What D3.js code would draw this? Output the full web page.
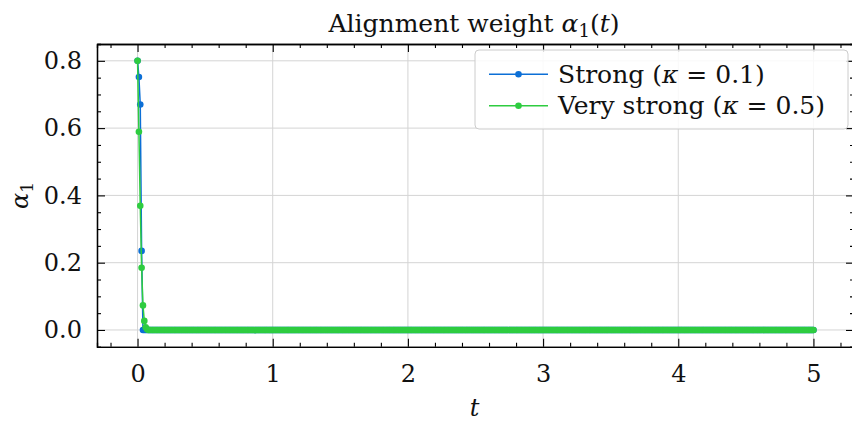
<!DOCTYPE html>
<html lang="en">
<head>
<meta charset="UTF-8">
<script src="https://d3js.org/d3.v7.min.js"></script>
<title>Alignment weight</title>
<style>
  body { margin: 0; background: #fff; }
  text { font-family: "DejaVu Serif", serif; fill: #111; }
</style>
</head>
<body>
<script>
// time step of the sampled curves (t = 0 ... 5)
var dt = 0.01;

// alpha_1(t), kappa = 0.1
var strongAlpha = [0.8, 0.752, 0.670, 0.235, 0,
  0,0,0,0,0,0,0,0,0,0, 0,0,0,0,0,0,0,0,0,0, 0,0,0,0,0,0,0,0,0,0, 0,0,0,0,0,0,0,0,0,0, 0,0,0,0,0,0,0,0,0,0,
  0,0,0,0,0,0,0,0,0,0, 0,0,0,0,0,0,0,0,0,0, 0,0,0,0,0,0,0,0,0,0, 0,0,0,0,0,0,0,0,0,0, 0,0,0,0,0,0,0,0,0,0,
  0,0,0,0,0,0,0,0,0,0, 0,0,0,0,0,0,0,0,0,0, 0,0,0,0,0,0,0,0,0,0, 0,0,0,0,0,0,0,0,0,0, 0,0,0,0,0,0,0,0,0,0,
  0,0,0,0,0,0,0,0,0,0, 0,0,0,0,0,0,0,0,0,0, 0,0,0,0,0,0,0,0,0,0, 0,0,0,0,0,0,0,0,0,0, 0,0,0,0,0,0,0,0,0,0,
  0,0,0,0,0,0,0,0,0,0, 0,0,0,0,0,0,0,0,0,0, 0,0,0,0,0,0,0,0,0,0, 0,0,0,0,0,0,0,0,0,0, 0,0,0,0,0,0,0,0,0,0,
  0,0,0,0,0,0,0,0,0,0, 0,0,0,0,0,0,0,0,0,0, 0,0,0,0,0,0,0,0,0,0, 0,0,0,0,0,0,0,0,0,0, 0,0,0,0,0,0,0,0,0,0,
  0,0,0,0,0,0,0,0,0,0, 0,0,0,0,0,0,0,0,0,0, 0,0,0,0,0,0,0,0,0,0, 0,0,0,0,0,0,0,0,0,0, 0,0,0,0,0,0,0,0,0,0,
  0,0,0,0,0,0,0,0,0,0, 0,0,0,0,0,0,0,0,0,0, 0,0,0,0,0,0,0,0,0,0, 0,0,0,0,0,0,0,0,0,0, 0,0,0,0,0,0,0,0,0,0,
  0,0,0,0,0,0,0,0,0,0, 0,0,0,0,0,0,0,0,0,0, 0,0,0,0,0,0,0,0,0,0, 0,0,0,0,0,0,0,0,0,0, 0,0,0,0,0,0,0,0,0,0,
  0,0,0,0,0,0,0,0,0,0, 0,0,0,0,0,0,0,0,0,0, 0,0,0,0,0,0,0,0,0,0, 0,0,0,0,0,0,0,0,0,0, 0,0,0,0,0,0];

// alpha_1(t), kappa = 0.5
var veryStrongAlpha = [0.8, 0.589, 0.369, 0.185, 0.073, 0.027, 0.008, 0.002,
  0,0,0,0,0,0,0,0,0,0, 0,0,0,0,0,0,0,0,0,0, 0,0,0,0,0,0,0,0,0,0, 0,0,0,0,0,0,0,0,0,0, 0,0,0,0,0,0,0,0,0,0,
  0,0,0,0,0,0,0,0,0,0, 0,0,0,0,0,0,0,0,0,0, 0,0,0,0,0,0,0,0,0,0, 0,0,0,0,0,0,0,0,0,0, 0,0,0,0,0,0,0,0,0,0,
  0,0,0,0,0,0,0,0,0,0, 0,0,0,0,0,0,0,0,0,0, 0,0,0,0,0,0,0,0,0,0, 0,0,0,0,0,0,0,0,0,0, 0,0,0,0,0,0,0,0,0,0,
  0,0,0,0,0,0,0,0,0,0, 0,0,0,0,0,0,0,0,0,0, 0,0,0,0,0,0,0,0,0,0, 0,0,0,0,0,0,0,0,0,0, 0,0,0,0,0,0,0,0,0,0,
  0,0,0,0,0,0,0,0,0,0, 0,0,0,0,0,0,0,0,0,0, 0,0,0,0,0,0,0,0,0,0, 0,0,0,0,0,0,0,0,0,0, 0,0,0,0,0,0,0,0,0,0,
  0,0,0,0,0,0,0,0,0,0, 0,0,0,0,0,0,0,0,0,0, 0,0,0,0,0,0,0,0,0,0, 0,0,0,0,0,0,0,0,0,0, 0,0,0,0,0,0,0,0,0,0,
  0,0,0,0,0,0,0,0,0,0, 0,0,0,0,0,0,0,0,0,0, 0,0,0,0,0,0,0,0,0,0, 0,0,0,0,0,0,0,0,0,0, 0,0,0,0,0,0,0,0,0,0,
  0,0,0,0,0,0,0,0,0,0, 0,0,0,0,0,0,0,0,0,0, 0,0,0,0,0,0,0,0,0,0, 0,0,0,0,0,0,0,0,0,0, 0,0,0,0,0,0,0,0,0,0,
  0,0,0,0,0,0,0,0,0,0, 0,0,0,0,0,0,0,0,0,0, 0,0,0,0,0,0,0,0,0,0, 0,0,0,0,0,0,0,0,0,0, 0,0,0,0,0,0,0,0,0,0,
  0,0,0,0,0,0,0,0,0,0, 0,0,0,0,0,0,0,0,0,0, 0,0,0,0,0,0,0,0,0,0, 0,0,0,0,0,0,0,0,0,0, 0,0,0];

var seriesNames = ["Strong", "Very strong"];
var seriesKappa = ["0.1", "0.5"];
var seriesColors = ["#0c6fd6", "#2ecc40"];

var xTicks = [0, 1, 2, 3, 4, 5];
var xMinor = [-0.2, 0.2, 0.4, 0.6, 0.8, 1.2, 1.4, 1.6, 1.8, 2.2, 2.4, 2.6, 2.8,
              3.2, 3.4, 3.6, 3.8, 4.2, 4.4, 4.6, 4.8, 5.2];
var yTicks = [0, 0.2, 0.4, 0.6, 0.8];
var yMinor = [-0.05, 0.05, 0.1, 0.15, 0.25, 0.3, 0.35, 0.45, 0.5, 0.55, 0.65, 0.7, 0.75, 0.85];

var width = 852, height = 421;
var plotLeft = 97, plotRight = 854, plotTop = 44, plotBottom = 346.8;

var x = d3.scaleLinear().domain([-0.3, 5.3]).range([plotLeft, plotRight]);
var y = d3.scaleLinear().domain([-0.05, 0.85]).range([plotBottom, plotTop]);

var svg = d3.select("body").append("svg")
  .attr("width", width)
  .attr("height", height);

// grid
svg.append("g").selectAll("line").data(xTicks).enter().append("line")
  .attr("x1", function (d) { return x(d); }).attr("x2", function (d) { return x(d); })
  .attr("y1", plotTop).attr("y2", plotBottom)
  .attr("stroke", "#d4d4d4").attr("stroke-width", 1);
svg.append("g").selectAll("line").data(yTicks).enter().append("line")
  .attr("y1", function (d) { return y(d); }).attr("y2", function (d) { return y(d); })
  .attr("x1", plotLeft).attr("x2", plotRight)
  .attr("stroke", "#d4d4d4").attr("stroke-width", 1);

// series
var series = [strongAlpha, veryStrongAlpha].map(function (vals) {
  return vals.map(function (v, i) { return { t: i * dt, v: v }; });
});

var line = d3.line()
  .x(function (d) { return x(d.t); })
  .y(function (d) { return y(d.v); });

series.forEach(function (pts, k) {
  var g = svg.append("g");
  g.append("path")
    .datum(pts)
    .attr("fill", "none")
    .attr("stroke", seriesColors[k])
    .attr("stroke-width", 1.5)
    .attr("d", line);
  g.selectAll("circle").data(pts).enter().append("circle")
    .attr("cx", function (d) { return x(d.t); })
    .attr("cy", function (d) { return y(d.v); })
    .attr("r", 3.3)
    .attr("fill", seriesColors[k]);
});

// axes: ticks point inward on all four sides
function styleAxis(g) {
  g.selectAll("path.domain").attr("stroke", "#000").attr("stroke-width", 1.3);
  g.selectAll(".tick line").attr("stroke", "#000").attr("stroke-width", 1.1);
  g.selectAll("text").attr("font-size", 24).attr("font-family", "DejaVu Serif").attr("fill", "#111");
}

svg.append("g").attr("transform", "translate(0," + plotBottom + ")")
  .call(d3.axisBottom(x).tickValues(xTicks).tickFormat(d3.format("d"))
    .tickSizeInner(-8).tickSizeOuter(0).tickPadding(18))
  .call(styleAxis);
svg.append("g").attr("transform", "translate(0," + plotBottom + ")")
  .call(d3.axisBottom(x).tickValues(xMinor).tickFormat("").tickSize(-4))
  .call(styleAxis);
svg.append("g").attr("transform", "translate(0," + plotTop + ")")
  .call(d3.axisTop(x).tickValues(xTicks).tickFormat("").tickSizeInner(-8).tickSizeOuter(0))
  .call(styleAxis);
svg.append("g").attr("transform", "translate(0," + plotTop + ")")
  .call(d3.axisTop(x).tickValues(xMinor).tickFormat("").tickSize(-4))
  .call(styleAxis);

svg.append("g").attr("transform", "translate(" + plotLeft + ",0)")
  .call(d3.axisLeft(y).tickValues(yTicks).tickFormat(d3.format(".1f"))
    .tickSizeInner(-8).tickSizeOuter(0).tickPadding(15))
  .call(styleAxis);
svg.append("g").attr("transform", "translate(" + plotLeft + ",0)")
  .call(d3.axisLeft(y).tickValues(yMinor).tickFormat("").tickSize(-4))
  .call(styleAxis);
svg.append("g").attr("transform", "translate(" + plotRight + ",0)")
  .call(d3.axisRight(y).tickValues(yTicks).tickFormat("").tickSizeInner(-8).tickSizeOuter(0))
  .call(styleAxis);
svg.append("g").attr("transform", "translate(" + plotRight + ",0)")
  .call(d3.axisRight(y).tickValues(yMinor).tickFormat("").tickSize(-4))
  .call(styleAxis);

// title
var title = svg.append("text")
  .attr("x", 474).attr("y", 32)
  .attr("text-anchor", "middle")
  .attr("font-size", 25);
title.append("tspan").text("Alignment weight ");
title.append("tspan").attr("font-style", "italic").text("α");
title.append("tspan").attr("font-size", 18).attr("dy", 5).text("1");
title.append("tspan").attr("dy", -5).text("(");
title.append("tspan").attr("font-style", "italic").text("t");
title.append("tspan").text(")");

// axis labels
svg.append("text")
  .attr("x", (plotLeft + plotRight) / 2 - 1).attr("y", 416)
  .attr("text-anchor", "middle")
  .attr("font-size", 24)
  .attr("font-style", "italic")
  .text("t");

var ylab = svg.append("text")
  .attr("transform", "translate(28," + ((plotTop + plotBottom) / 2) + ") rotate(-90)")
  .attr("text-anchor", "middle")
  .attr("font-size", 24);
ylab.append("tspan").attr("font-style", "italic").text("α");
ylab.append("tspan").attr("font-size", 17).attr("dy", 5).text("1");

// legend
var legend = svg.append("g");
legend.append("rect")
  .attr("x", 475).attr("y", 50)
  .attr("width", 373).attr("height", 79)
  .attr("rx", 4)
  .attr("fill", "#fff").attr("fill-opacity", 0.85)
  .attr("stroke", "#cccccc").attr("stroke-width", 1);

seriesNames.forEach(function (name, k) {
  var cy = 74.3 + k * 31.4;
  legend.append("line")
    .attr("x1", 489).attr("x2", 548)
    .attr("y1", cy).attr("y2", cy)
    .attr("stroke", seriesColors[k]).attr("stroke-width", 1.5);
  legend.append("circle")
    .attr("cx", 518.5).attr("cy", cy).attr("r", 3.3)
    .attr("fill", seriesColors[k]);
  var t = legend.append("text")
    .attr("x", 558).attr("y", cy + 8.5)
    .attr("font-size", 25);
  t.append("tspan").text(name + " (");
  t.append("tspan").attr("font-style", "italic").text("κ");
  t.append("tspan").text(" = " + seriesKappa[k] + ")");
});
</script>
</body>
</html>
